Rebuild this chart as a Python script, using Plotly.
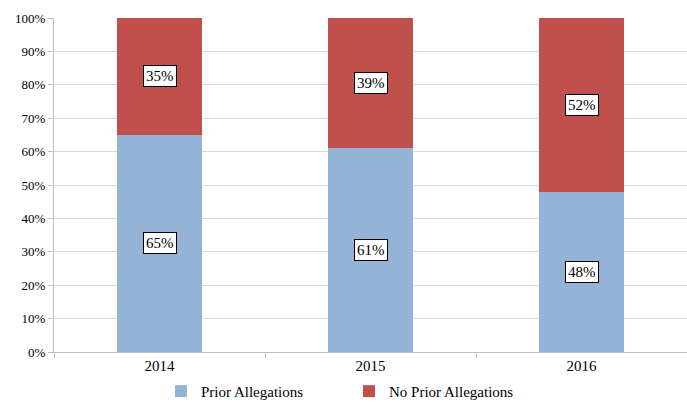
import plotly.graph_objects as go

years = ["2014", "2015", "2016"]
prior = [65, 61, 48]
no_prior = [35, 39, 52]
tick_vals = [0, 10, 20, 30, 40, 50, 60, 70, 80, 90, 100]
tick_text = [f"{v}%" for v in tick_vals]

font_family = "Liberation Serif, Times New Roman, serif"

fig = go.Figure()
fig.add_trace(go.Bar(x=years, y=prior, name="Prior Allegations",
                     marker=dict(color="#95b3d7", line=dict(width=0)), width=0.4))
fig.add_trace(go.Bar(x=years, y=no_prior, name="No Prior Allegations",
                     marker=dict(color="#c0504d", line=dict(width=0)), width=0.4))

for i, y in enumerate(years):
    for base, val in [(0, prior[i]), (prior[i], no_prior[i])]:
        fig.add_annotation(x=i, y=base + val / 2, text=f"{val}%", showarrow=False,
                           bgcolor="white", bordercolor="black", borderwidth=1,
                           borderpad=2, font=dict(family=font_family, size=15, color="black"))

fig.update_layout(
    barmode="stack",
    width=687, height=404,
    margin=dict(l=54, r=0, t=18, b=52, autoexpand=False),
    plot_bgcolor="white", paper_bgcolor="white",
    font=dict(family=font_family, size=13, color="black"),
    showlegend=True,
    legend=dict(orientation="h", x=0.169, xanchor="left", y=-0.118, yanchor="middle",
                font=dict(family=font_family, size=15), traceorder="normal",
                entrywidth=143, entrywidthmode="pixels", itemwidth=30),
)
fig.update_yaxes(range=[0, 100], tickvals=tick_vals, ticktext=tick_text,
                 showgrid=True, gridcolor="#d9d9d9", gridwidth=1,
                 showline=True, linecolor="#bfbfbf", ticks="outside", ticklen=5,
                 tickcolor="#bfbfbf", zeroline=False, tickfont=dict(size=13))
fig.update_xaxes(type="category", categoryorder="array", categoryarray=years,
                 range=[-0.5, len(years) - 0.5],
                 showline=True, linecolor="#bfbfbf", ticks="outside", ticklen=5,
                 tickcolor="#bfbfbf", tickson="boundaries", tickfont=dict(size=15),
                 tickangle=0)

fig.write_html("out.html", config={"displayModeBar": False},
               post_script="document.body.style.margin='0';")
